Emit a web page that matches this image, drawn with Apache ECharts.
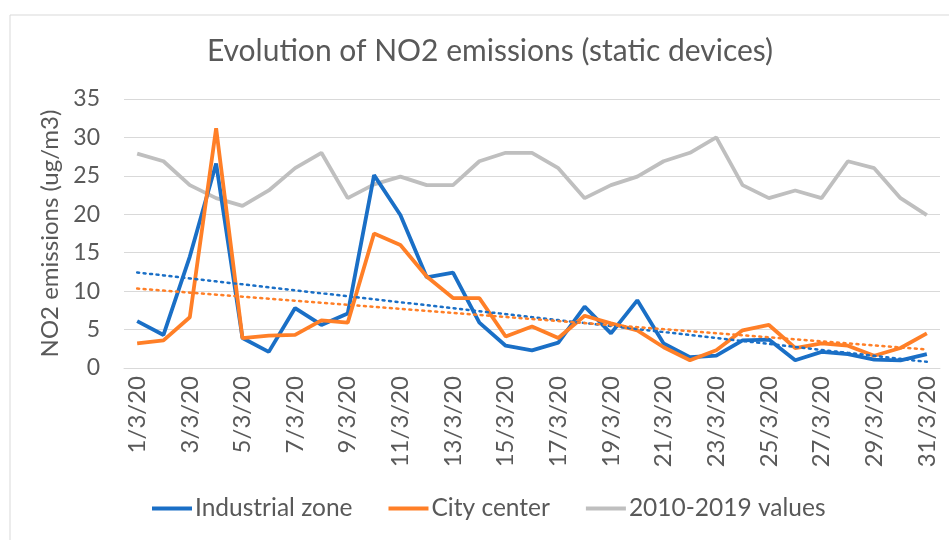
<!DOCTYPE html>
<html><head><meta charset="utf-8">
<script src="https://cdn.jsdelivr.net/npm/echarts@6/dist/echarts.min.js"></script>
<style>html,body{margin:0;padding:0;background:#fff}#c{width:949px;height:540px}</style>
</head><body><div id="c"></div>
<script>
const categories = ['1/3/20','2/3/20','3/3/20','4/3/20','5/3/20','6/3/20','7/3/20','8/3/20','9/3/20','10/3/20','11/3/20','12/3/20','13/3/20','14/3/20','15/3/20','16/3/20','17/3/20','18/3/20','19/3/20','20/3/20','21/3/20','22/3/20','23/3/20','24/3/20','25/3/20','26/3/20','27/3/20','28/3/20','29/3/20','30/3/20','31/3/20'];
const industrialZone = [6.1,4.3,14.5,26.6,3.9,2.1,7.8,5.6,7.1,25.1,19.9,11.8,12.4,5.9,2.9,2.3,3.3,8.0,4.5,8.8,3.2,1.4,1.6,3.6,3.7,1.0,2.1,1.8,1.1,1.0,1.8];
const cityCenter = [3.2,3.6,6.6,31.2,3.9,4.2,4.3,6.2,5.9,17.5,16.0,11.9,9.1,9.1,4.1,5.4,3.9,6.8,5.8,4.9,2.7,1.0,2.3,4.9,5.6,2.6,3.2,2.9,1.6,2.6,4.5];
const historical = [27.9,26.9,23.8,22.1,21.1,23.1,26.0,28.0,22.1,23.9,24.9,23.8,23.8,26.9,28.0,28.0,26.0,22.1,23.8,24.9,26.9,28.0,30.0,23.8,22.1,23.1,22.1,26.9,26.0,22.1,19.9];
const yTicks = [0,5,10,15,20,25,30,35];

// Linear trendline (least squares), as Excel's trendline
function trend(vals){
  const n = vals.length; let sx=0, sy=0, sxy=0, sxx=0;
  vals.forEach((v,i)=>{const x=i+1; sx+=x; sy+=v; sxy+=x*v; sxx+=x*x;});
  const b=(n*sxy-sx*sy)/(n*sxx-sx*sx), a=(sy-b*sx)/n;
  return vals.map((v,i)=>+(a+b*(i+1)).toFixed(3));
}
const FONT = 'Lato';
const chart = echarts.init(document.getElementById('c'));
chart.setOption({
  animation:false,
  textStyle:{fontFamily:FONT},
  graphic:[{type:'rect',shape:{x:10,y:15,width:960,height:560},style:{fill:'none',stroke:'#d9d9d9',lineWidth:1},silent:true}],
  title:{text:'Evolution of NO2 emissions (static devices)',left:485,textAlign:'center',top:31,
    textStyle:{fontFamily:FONT,fontSize:30,fontWeight:'normal',color:'#595959'}},
  grid:{left:124,right:9,top:99,bottom:172},
  legend:{bottom:14,left:147,icon:'rect',itemWidth:40,itemHeight:4,itemGap:36,
    textStyle:{fontFamily:FONT,fontSize:24.5,color:'#595959',padding:[0,0,0,-2]},
    data:['Industrial zone','City center','2010-2019 values']},
  xAxis:{type:'category',data:categories,boundaryGap:true,
    axisLine:{lineStyle:{color:'#d9d9d9',width:1}},
    axisTick:{interval:1,length:7,lineStyle:{color:'#d9d9d9'}},
    axisLabel:{interval:1,rotate:90,fontSize:24,color:'#595959',margin:8,fontFamily:FONT}},
  yAxis:{type:'value',min:0,max:35,interval:5,
    name:'NO2 emissions (ug/m3)',nameLocation:'middle',nameGap:62,nameRotate:90,nameMoveOverlap:false,
    nameTextStyle:{fontFamily:FONT,fontSize:24,color:'#595959'},
    axisLine:{show:false},axisTick:{show:false},
    axisLabel:{fontSize:23,color:'#595959',margin:24,fontFamily:FONT,
      formatter:v=>yTicks.includes(v)?String(v):''},
    splitLine:{lineStyle:{color:'#d9d9d9',width:1}}},
  series:[
    {name:'2010-2019 values',type:'line',data:historical,symbol:'none',z:2,
      lineStyle:{color:'#bfbfbf',width:3.8},itemStyle:{color:'#bfbfbf'}},
    {name:'Industrial zone',type:'line',data:industrialZone,symbol:'none',z:3,
      lineStyle:{color:'#1a6fc6',width:3.8},itemStyle:{color:'#1a6fc6'}},
    {name:'City center',type:'line',data:cityCenter,symbol:'none',z:4,
      lineStyle:{color:'#ff7f27',width:3.8},itemStyle:{color:'#ff7f27'}},
    {name:'Industrial trend',type:'line',data:trend(industrialZone),symbol:'none',z:5,
      lineStyle:{color:'#1a6fc6',width:2.5,type:[2,4.5],cap:'round'}},
    {name:'City trend',type:'line',data:trend(cityCenter),symbol:'none',z:5,
      lineStyle:{color:'#ff7f27',width:2.5,type:[2,4.5],cap:'round'}}
  ]
});
</script></body></html>
